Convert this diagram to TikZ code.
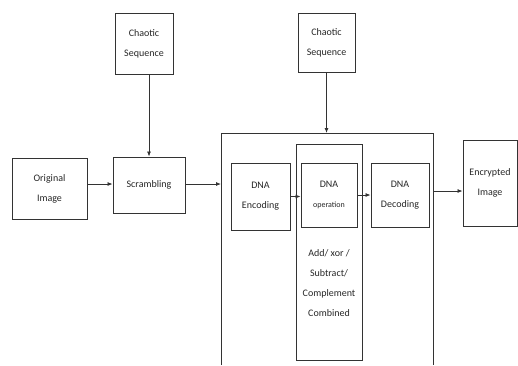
\documentclass[tikz,border=0pt]{standalone}
\usepackage{fontspec}
\setmainfont{Carlito}
\usepackage{tikz}
\usetikzlibrary{arrows.meta}

\begin{document}
\begin{tikzpicture}[
          x=1pt, y=-1pt,
          box/.style={draw=black!80, line width=0.9pt, align=center, inner sep=1pt,
                      font=\fontsize{10}{20}\selectfont, text=black!85},
          arr/.style={draw=black!80, line width=0.8pt, -{Latex[length=5pt,width=4pt]}}
      ]
        \useasboundingbox (0,0) rectangle (518,365);
        % left part: image and scrambling
        \node[box, minimum width=58pt, minimum height=61pt] (chaosA) at (144,43.5) {Chaotic\\Sequence};
        \node[box, minimum width=75pt, minimum height=61pt] (orig)   at (49.5,188.5) {Original\\Image};
        \node[box, minimum width=72pt, minimum height=56pt] (scram)  at (149,185) {Scrambling};
        % DNA part inside the open frame
        \coordinate (frTL) at (221,133);
        \coordinate (frTR) at (433,133);
        \draw[black!80, line width=0.9pt] (221,365) -- (frTL) -- (frTR) -- (433,365);
        \node[box, minimum width=66pt, minimum height=216pt] (opcol) at (329,252) {};
        \node[box, minimum width=59pt, minimum height=67pt] (enc) at (260.5,196.5) {DNA\\Encoding};
        \node[box, minimum width=56pt, minimum height=64pt] (op)  at (329,195) {DNA\\{\fontsize{8}{20}\selectfont operation}};
        \node[box, minimum width=58pt, minimum height=64pt] (dec) at (400,195) {DNA\\Decoding};
        \node[align=center, font=\fontsize{10}{20}\selectfont, text=black!85] (optxt) at (329,283)
             {Add/ xor /\\Subtract/\\Complement\\Combined};
        \node[box, minimum width=57pt, minimum height=59pt] (chaosB) at (326.5,42.5) {Chaotic\\Sequence};
        \node[box, minimum width=54pt, minimum height=86pt] (encr)   at (490,183) {Encrypted\\Image};
        % arrows
        \coordinate (frIn)  at (221,184);
        \coordinate (frOut) at (433,191);
        \draw[arr] (chaosA.south -| scram.north) -- (scram.north);
        \draw[arr] (orig.east |- frIn) -- (scram.west |- frIn);
        \draw[arr] (scram.east |- frIn) -- (frIn);
        \draw[arr] (chaosB.south) -- (chaosB.south |- frTL);
        \draw[arr] (enc.east) -- (enc.east -| op.west);
        \draw[arr] (op.east) -- (dec.west);
        \draw[arr] (frOut) -- (frOut -| encr.west);
      \end{tikzpicture}
\end{document}
